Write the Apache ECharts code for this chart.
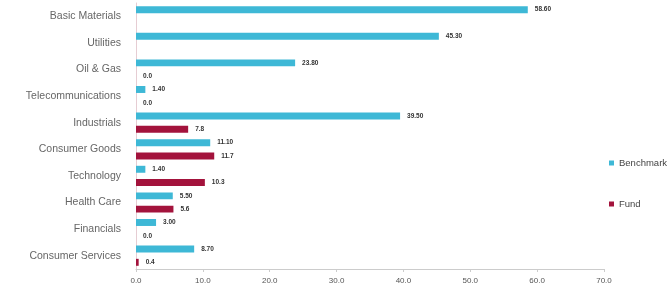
<!DOCTYPE html>
<html><head><meta charset="utf-8">
<script src="https://cdn.jsdelivr.net/npm/echarts@6/dist/echarts.min.js"></script>
<style>html,body{margin:0;padding:0;background:#fff}#c{width:672px;height:287px}</style>
</head><body><div id="c"></div>
<script>
const categories = ["Consumer Services","Financials","Health Care","Technology","Consumer Goods","Industrials","Telecommunications","Oil & Gas","Utilities","Basic Materials"];
const benchmark = [8.7, 3.0, 5.5, 1.4, 11.1, 39.5, 1.4, 23.8, 45.3, 58.6];
const fund = [0.4, 0.0, 5.6, 10.3, 11.7, 7.8, 0.0, 0.0, null, null];
const xTicks = {min: 0, max: 70, interval: 10};

const chart = echarts.init(document.getElementById('c'));
chart.setOption({
  animation: false,
  grid: {left: 136, right: 68, top: 3, bottom: 18, containLabel: false},
  legend: {
    orient: 'vertical', left: 604, top: 153, itemWidth: 5, itemHeight: 5, itemGap: 31,
    icon: 'rect', textStyle: {fontSize: 9.5, color: '#444', fontFamily: 'Liberation Sans'},
    data: ['Benchmark', 'Fund']
  },
  xAxis: {
    type: 'value', min: xTicks.min, max: xTicks.max, interval: xTicks.interval,
    axisLine: {show: true, lineStyle: {color: '#ccc'}},
    axisTick: {show: true, length: 3, lineStyle: {color: '#ccc'}},
    splitLine: {show: false},
    axisLabel: {fontSize: 8, color: '#555', margin: 8, fontFamily: 'Liberation Sans', formatter: v => v.toFixed(1)}
  },
  yAxis: {
    type: 'category', data: categories,
    axisLine: {show: true, lineStyle: {color: '#e6cdd3'}},
    axisTick: {show: false},
    axisLabel: {fontSize: 10.5, color: '#666', margin: 15, fontFamily: 'Liberation Sans'}
  },
  series: [
    {name: 'Benchmark', type: 'bar', data: benchmark, barGap: '90%', barCategoryGap: '24%',
     itemStyle: {color: '#3eb8d6'},
     label: {show: true, position: 'right', distance: 7, fontSize: 6.5, fontWeight: 'bold', color: '#333',
       formatter: p => Number(p.value).toFixed(2)}},
    {name: 'Fund', type: 'bar', data: fund, barGap: '90%', barCategoryGap: '24%',
     itemStyle: {color: '#a3133c'},
     label: {show: true, position: 'right', distance: 7, fontSize: 6.5, fontWeight: 'bold', color: '#333',
       formatter: p => p.value == null ? '' : Number(p.value).toFixed(1)}}
  ]
});
</script></body></html>
